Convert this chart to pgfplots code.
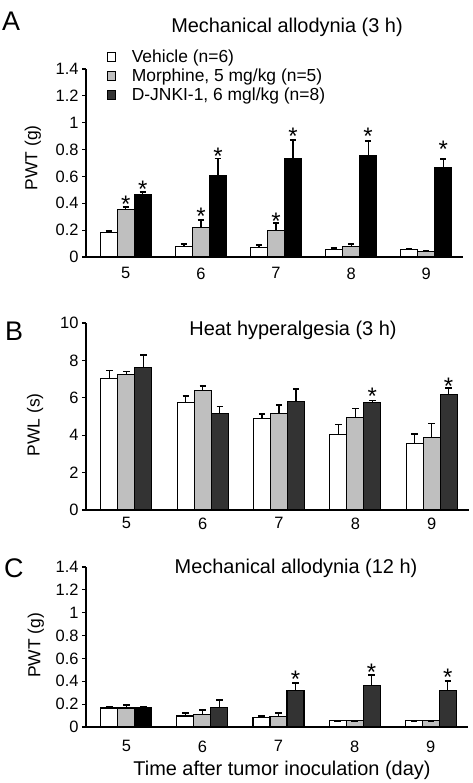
\documentclass[border=0pt]{standalone}
\usepackage{pgfplots}
\pgfplotsset{compat=1.18}
\usepackage{pgfplotstable}
\usepackage{fontspec}
\setmainfont{Liberation Sans}
\definecolor{lg}{gray}{0.75}
\definecolor{dg}{gray}{0.2}

\pgfplotstableread{
x w we g ge b be
5 0.185 0.010 0.352 0.022 0.466 0.018
6 0.077 0.017 0.220 0.058 0.603 0.130
7 0.074 0.013 0.199 0.054 0.734 0.139
8 0.055 0.010 0.079 0.020 0.754 0.110
9 0.055 0.007 0.042 0.000 0.665 0.065
}\dataA
\pgfplotstableread{
x w we g ge b be
5 7.04 0.42 7.27 0.14 7.64 0.63
6 5.75 0.34 6.38 0.24 5.18 0.36
7 4.88 0.25 5.16 0.44 5.80 0.66
8 4.02 0.55 4.95 0.48 5.75 0.11
9 3.57 0.50 3.89 0.74 6.16 0.36
}\dataB
\pgfplotstableread{
x w we g ge
5 0.166 0.014 0.166 0.029
6 0.096 0.024 0.110 0.036
7 0.085 0.011 0.093 0.027
8 0.055 0.000 0.055 0.000
9 0.055 0.000 0.055 0.000
}\dataC
\pgfplotstableread{
x b be
5 0.172 0.008
}\dataCbfive
\pgfplotstableread{
x b be
6 0.172 0.064
7 0.320 0.068
8 0.360 0.098
9 0.320 0.080
}\dataCb
\pgfplotstableread{
x y
5 0.377
6 0.285
7 0.252
}\starAg
\pgfplotstableread{
x y
5 0.488
6 0.730
7 0.881
8 0.881
9 0.784
}\starAb
\pgfplotstableread{
x y
8 5.95
9 6.52
}\starBb
\pgfplotstableread{
x y
7 0.394
8 0.458
9 0.414
}\starCb

\newcommand{\lf}{\fontsize{17.5}{20}\selectfont}
\newcommand{\tf}{\fontsize{16.5}{19}\selectfont}

\pgfplotsset{
  panel/.style={
    scale only axis, ybar, bar width=17bp,
    xmin=4.47, xmax=9.49, ymin=0,
    axis lines=left, axis line style={-, line width=1.2bp, black},
    tick align=outside, major tick length=4bp,
    major tick style={line width=1.1bp, black},
    major x tick style={draw=none},
    xtick={5,6,7,8,9},
    tick label style={font=\tf},
    /pgf/number format/assume math mode=true,
    label style={font=\lf},
    clip=false,
    every axis plot/.append style={line width=1.1bp, draw=black},
    error bars/error bar style={line width=1.2bp, black},
    error bars/error mark=-,
    error bars/error mark options={rotate=90, mark size=3.2bp, line width=1.8bp, black},
  },
  stars/.style={draw=none, fill=none, forget plot,
    nodes near coords={*},
    nodes near coords style={font=\fontsize{24}{24}\selectfont, anchor=base, yshift=-6bp, black}},
  sqlegend/.style={legend image code/.code={%
    \draw[##1, line width=0.9bp] (0bp,-4.5bp) rectangle (8bp,4.5bp);}},
}

\begin{document}
\begin{tikzpicture}
\useasboundingbox (0,0) rectangle (473bp,-783bp);

% ---------------- Panel A ----------------
\begin{axis}[panel, at={(86bp,-257bp)}, anchor=south west,
  width=377bp, height=188bp, ymax=1.4,
  ytick={0,0.2,0.4,0.6,0.8,1,1.2,1.4},
  xticklabel style={yshift=-3bp},
  ylabel={PWT (g)},
  ylabel style={at={(axis description cs:-0.141,0.527)}, anchor=center},
  legend style={draw=none, fill=none, at={(axis description cs:0.055,1.115)},
    anchor=north west, font=\lf, row sep=1bp, inner sep=0pt,
    /tikz/every odd column/.append style={column sep=14bp}},
  legend cell align=left,
]
\addlegendimage{sqlegend, fill=white, draw=black}
\addlegendentry{\lf Vehicle (n=6)}
\addlegendimage{sqlegend, fill=lg, draw=black}
\addlegendentry{\lf Morphine, 5 mg/kg (n=5)}
\addlegendimage{sqlegend, fill=dg, draw=black}
\addlegendentry{\lf D-JNKI-1, 6 mgl/kg (n=8)}
\addplot[fill=white, bar shift=-17bp, forget plot, error bars/.cd, y dir=plus, y explicit]
  table[x=x, y=w, y error=we]{\dataA};
\addplot[fill=lg, bar shift=0bp, forget plot, error bars/.cd, y dir=plus, y explicit]
  table[x=x, y=g, y error=ge]{\dataA};
\addplot[fill=black, bar shift=17bp, forget plot, error bars/.cd, y dir=plus, y explicit]
  table[x=x, y=b, y error=be]{\dataA};
\addplot[stars, bar shift=0bp] table[x=x, y=y]{\starAg};
\addplot[stars, bar shift=17bp] table[x=x, y=y]{\starAb};
\end{axis}

% ---------------- Panel B ----------------
\begin{axis}[panel, at={(86bp,-510bp)}, anchor=south west,
  width=383bp, height=187bp, ymax=10,
  ytick={0,2,4,6,8,10},
  xticklabel style={yshift=0bp},
  ylabel={PWL (s)},
  ylabel style={at={(axis description cs:-0.133,0.455)}, anchor=center},
]
\addplot[fill=white, bar shift=-17bp, forget plot, error bars/.cd, y dir=plus, y explicit]
  table[x=x, y=w, y error=we]{\dataB};
\addplot[fill=lg, bar shift=0bp, forget plot, error bars/.cd, y dir=plus, y explicit]
  table[x=x, y=g, y error=ge]{\dataB};
\addplot[fill=dg, bar shift=17bp, forget plot, error bars/.cd, y dir=plus, y explicit]
  table[x=x, y=b, y error=be]{\dataB};
\addplot[stars, bar shift=17bp] table[x=x, y=y]{\starBb};
\end{axis}

% ---------------- Panel C ----------------
\begin{axis}[panel, at={(86bp,-727bp)}, anchor=south west,
  width=382bp, height=160bp, ymax=1.4,
  ytick={0,0.2,0.4,0.6,0.8,1,1.2,1.4},
  xticklabel style={yshift=-6bp},
  ylabel={PWT (g)},
  ylabel style={at={(axis description cs:-0.131,0.51)}, anchor=center},
  xlabel={Time after tumor inoculation (day)},
  xlabel style={at={(axis description cs:0.513,-0.30)}, anchor=base,
    font=\fontsize{20}{22}\selectfont},
]
\addplot[fill=white, bar shift=-17bp, forget plot, error bars/.cd, y dir=plus, y explicit]
  table[x=x, y=w, y error=we]{\dataC};
\addplot[fill=lg, bar shift=0bp, forget plot, error bars/.cd, y dir=plus, y explicit]
  table[x=x, y=g, y error=ge]{\dataC};
\addplot[fill=black, bar shift=17bp, forget plot, error bars/.cd, y dir=plus, y explicit]
  table[x=x, y=b, y error=be]{\dataCbfive};
\addplot[fill=dg, bar shift=17bp, forget plot, error bars/.cd, y dir=plus, y explicit]
  table[x=x, y=b, y error=be]{\dataCb};
\addplot[stars, bar shift=17bp] table[x=x, y=y]{\starCb};
\end{axis}

% titles and panel letters
\node[anchor=base, font=\fontsize{20}{22}\selectfont] at (287bp,-32bp) {Mechanical allodynia (3 h)};
\node[anchor=base, font=\fontsize{20}{22}\selectfont] at (293bp,-335bp) {Heat hyperalgesia (3 h)};
\node[anchor=base, font=\fontsize{20}{22}\selectfont] at (296bp,-573bp) {Mechanical allodynia (12 h)};
\node[anchor=base west, inner sep=0pt, font=\fontsize{27}{28}\selectfont] at (2bp,-30bp) {A};
\node[anchor=base west, inner sep=0pt, font=\fontsize{27}{28}\selectfont] at (5bp,-340bp) {B};
\node[anchor=base west, inner sep=0pt, font=\fontsize{27}{28}\selectfont] at (4bp,-577bp) {C};
\end{tikzpicture}
\end{document}
